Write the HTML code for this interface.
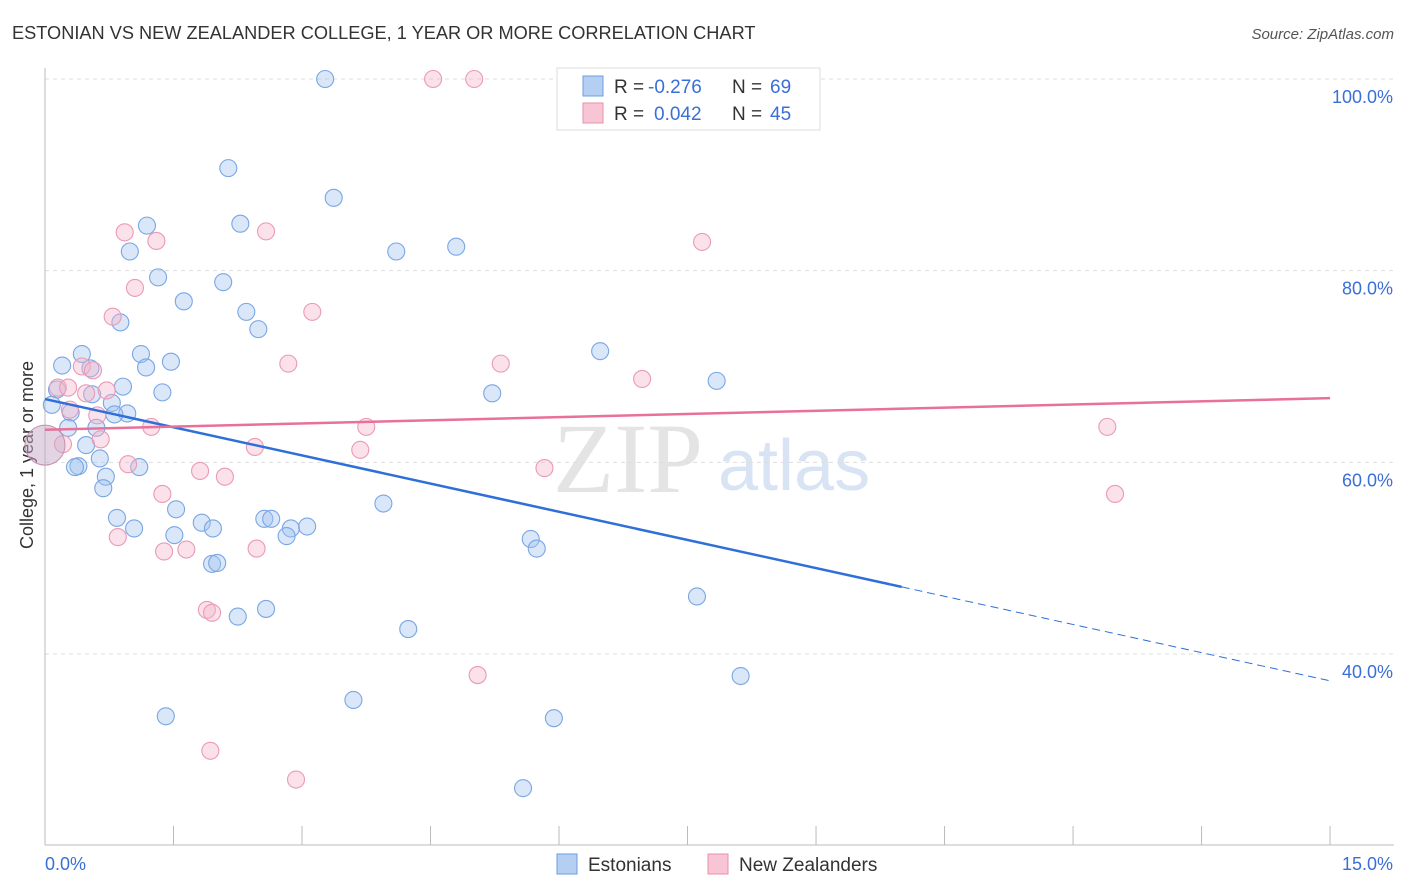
<!DOCTYPE html>
<html><head><meta charset="utf-8"><style>
body{margin:0;background:#fff;font-family:"Liberation Sans",sans-serif}
svg{display:block}
</style></head><body>
<svg id="c" width="1406" height="892">
<text x="12" y="39" font-size="18.2" fill="#333">ESTONIAN VS NEW ZEALANDER COLLEGE, 1 YEAR OR MORE CORRELATION CHART</text>
<text x="1394" y="39" font-size="15" fill="#555" font-style="italic" text-anchor="end">Source: ZipAtlas.com</text>
<text x="553" y="492" font-size="100" fill="#e4e4e4" font-family="Liberation Serif,serif">ZIP</text>
<text x="718" y="490" font-size="72" fill="#d8e4f4">atlas</text>
<text transform="translate(33,455) rotate(-90)" font-size="18" fill="#333" text-anchor="middle">College, 1 year or more</text>
<g id="grid"></g><g id="pts"></g><g id="lines"></g>
<g>
<rect x="557" y="68" width="263" height="62" fill="#fff" stroke="#ddd"/>
<rect x="583" y="76" width="20" height="20" fill="#b5cff3" stroke="#6b9ce0"/>
<rect x="583" y="103" width="20" height="20" fill="#f8c5d5" stroke="#e88fae"/>
<text x="614" y="93" font-size="19" fill="#333">R =</text>
<text x="648" y="93" font-size="19" fill="#3a6fd8">-0.276</text>
<text x="732" y="93" font-size="19" fill="#333">N =</text>
<text x="770" y="93" font-size="19" fill="#3a6fd8">69</text>
<text x="614" y="120" font-size="19" fill="#333">R =</text>
<text x="654" y="120" font-size="19" fill="#3a6fd8">0.042</text>
<text x="732" y="120" font-size="19" fill="#333">N =</text>
<text x="770" y="120" font-size="19" fill="#3a6fd8">45</text>
</g>
<g>
<rect x="557" y="854" width="20" height="20" fill="#b5cff3" stroke="#6b9ce0"/>
<text x="588" y="871" font-size="19" fill="#333">Estonians</text>
<rect x="708" y="854" width="20" height="20" fill="#f8c5d5" stroke="#e88fae"/>
<text x="739" y="871" font-size="19" fill="#333">New Zealanders</text>
</g>
<text x="45" y="870" font-size="18" fill="#3a6fd8">0.0%</text>
<text x="1393" y="870" font-size="18" fill="#3a6fd8" text-anchor="end">15.0%</text>
</svg>
<script>
const yTicks=[100,80,60,40];
const blueX=[3.27,2.14,3.37,2.28,1.19,0.99,4.10,4.80,1.32,2.08,1.62,2.35,2.49,0.88,1.12,1.47,1.18,0.43,0.20,0.53,0.14,0.91,1.37,0.55,5.22,6.48,7.84,0.08,0.78,0.30,0.96,0.81,0.27,0.60,0.48,0.64,0.39,0.35,1.10,0.71,0.68,3.95,1.53,0.84,1.04,1.83,1.96,2.56,2.64,2.87,3.06,2.82,1.51,5.67,5.74,1.95,2.01,7.61,2.58,2.25,4.24,8.12,3.60,1.41,5.94,5.58];
const blueY=[100,90.7,87.6,84.9,84.7,82.0,82.0,82.5,79.3,78.8,76.8,75.7,73.9,74.6,71.3,70.5,69.9,71.3,70.1,69.8,67.6,67.9,67.3,67.1,67.2,71.6,68.5,66.0,66.2,65.2,65.1,65.0,63.6,63.6,61.8,60.4,59.6,59.5,59.5,58.5,57.3,55.7,55.1,54.2,53.1,53.7,53.1,54.1,54.1,53.1,53.3,52.3,52.4,52.0,51.0,49.4,49.5,46.0,44.7,43.9,42.6,37.7,35.2,33.5,33.3,26.0];
const pinkX=[4.53,5.01,0.93,1.30,2.58,7.67,1.05,0.79,3.12,2.84,5.32,6.97,0.15,0.43,0.48,0.56,0.72,0.29,0.61,0.27,0.21,0.65,1.24,3.75,2.45,3.68,12.4,5.83,0.97,1.81,2.10,1.37,12.49,0.85,1.39,1.65,2.47,1.89,1.95,5.05,1.93,2.93];
const pinkY=[100,100,84.0,83.1,84.1,83.0,78.2,75.2,75.7,70.3,70.3,68.7,67.8,70.0,67.2,69.6,67.5,65.5,64.9,67.8,61.9,62.4,63.7,63.7,61.6,61.3,63.7,59.4,59.8,59.1,58.5,56.7,56.7,52.2,50.7,50.9,51.0,44.6,44.3,37.8,29.9,26.9];
const bigX=[0,0], bigY=[61.8,61.8];
const blueFit=[66.6,47.0,37.2], fitX=[0,10,15];
const pinkFit=[63.4,66.7];
const X=v=>45+v*85.67, Y=v=>79+(100-v)*9.583;
const NS='http://www.w3.org/2000/svg';
function mk(t,a,p){const e=document.createElementNS(NS,t);for(const k in a)e.setAttribute(k,a[k]);p.appendChild(e);return e;}
const g=document.getElementById('grid');
yTicks.forEach(v=>{
 const l=mk('line',{x1:45,x2:1394,y1:Y(v),y2:Y(v),stroke:'#ddd','stroke-dasharray':'4,4'},g);
 
 
 const t=mk('text',{x:1393,y:Y(v)+24,'font-size':18,fill:'#3a6fd8','text-anchor':'end'},g);
 t.textContent=v.toFixed(1)+'%';
 
 
});
mk('line',{x1:45,x2:45,y1:68,y2:845,stroke:'#bbb'},g);
mk('line',{x1:45,x2:1394,y1:845,y2:845,stroke:'#bbb'},g);
for(let i=0;i<=10;i++){mk('line',{x1:X(i*1.5),x2:X(i*1.5),y1:826,y2:845,stroke:'#bbb'},g);}
const p=document.getElementById('pts');
blueX.forEach((v,i)=>{const c=mk('circle',{cx:X(v),cy:Y(blueY[i]),r:8.5,fill:'rgba(160,195,240,0.4)',stroke:'#7aa6e4','stroke-width':1.1},p);
 
 });
pinkX.forEach((v,i)=>{const c=mk('circle',{cx:X(v),cy:Y(pinkY[i]),r:8.5,fill:'rgba(245,180,200,0.4)',stroke:'#eb9ab6','stroke-width':1.1},p);
 
 });
const b1=mk('circle',{cx:X(bigX[0]),cy:Y(bigY[0]),r:20,fill:'rgba(200,170,200,0.5)',stroke:'#c88fb0'},p);


const L=document.getElementById('lines');
const bl=mk('line',{x1:X(fitX[0]),y1:Y(blueFit[0]),x2:X(fitX[1]),y2:Y(blueFit[1]),stroke:'#2f6fd8','stroke-width':2.5},L);


const bd=mk('line',{x1:X(fitX[1]),y1:Y(blueFit[1]),x2:X(fitX[2]),y2:Y(blueFit[2]),stroke:'#2f6fd8','stroke-width':1,'stroke-dasharray':'8,5'},L);


const pl=mk('line',{x1:X(fitX[0]),y1:Y(pinkFit[0]),x2:X(fitX[2]),y2:Y(pinkFit[1]),stroke:'#e8709a','stroke-width':2.5},L);


</script>
</body></html>
